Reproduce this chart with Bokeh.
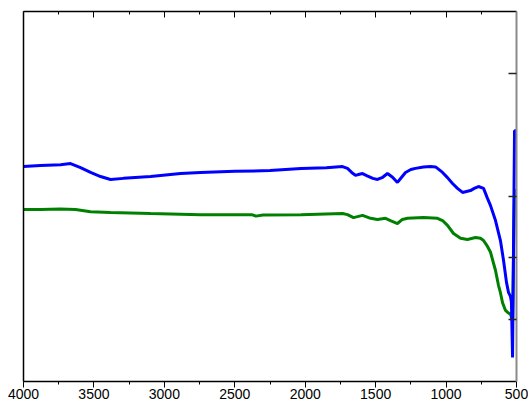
from bokeh.plotting import figure
from bokeh.models import Range1d, LinearAxis, FixedTicker, CustomJSTickFormatter
from bokeh.embed import file_html
from bokeh.resources import INLINE

# ---- data ----
x_major_ticks = [4000, 3500, 3000, 2500, 2000, 1500, 1000, 500]
x_minor_ticks = [3750, 3250, 2750, 2250, 1750, 1250, 750]
right_ticks = [16.8, 33.5, 50.0, 83.2]

blue_wn = [4000, 3880, 3737, 3666, 3595, 3524, 3453, 3382, 3290, 3098, 2885, 2743,
           2500, 2250, 2030, 1850, 1735, 1700, 1670, 1643, 1615, 1593, 1560, 1520,
           1487, 1450, 1416, 1380, 1345, 1320, 1288, 1250, 1217, 1160, 1110, 1075,
           1061, 1025, 990, 954, 919, 883, 827, 800, 770, 734, 706, 685, 649, 614,
           592, 571, 557, 543, 536, 528, 514, 500]
blue_t = [58.1, 58.4, 58.6, 58.9, 57.8, 56.5, 55.4, 54.6, 54.9, 55.4, 56.2, 56.5,
          56.8, 57.0, 57.6, 57.8, 58.1, 57.6, 56.5, 55.7, 56.0, 56.2, 55.6, 54.9,
          54.6, 55.2, 56.2, 55.2, 53.8, 55.0, 56.5, 57.3, 57.6, 58.0, 58.1, 58.0,
          57.6, 56.5, 55.1, 53.5, 52.2, 51.1, 51.6, 52.2, 52.7, 52.2, 49.5, 47.6,
          43.5, 38.1, 32.7, 26.8, 24.1, 23.0, 21.5, 6.5, 67.8, 67.8]

green_wn = [4000, 3880, 3737, 3631, 3524, 3382, 3098, 2743, 2500, 2380, 2350, 2300,
            2030, 1735, 1700, 1657, 1593, 1536, 1487, 1430, 1395, 1345, 1310, 1274,
            1160, 1061, 1025, 990, 947, 897, 848, 791, 756, 734, 706, 685, 649, 628,
            614, 599, 578, 557, 543, 528, 514, 500]
green_t = [46.5, 46.5, 46.6, 46.5, 45.9, 45.7, 45.4, 45.1, 45.1, 45.1, 44.7, 45.0,
           45.1, 45.4, 45.1, 44.3, 44.9, 44.1, 43.8, 44.1, 43.5, 42.7, 43.8, 44.1,
           44.3, 44.1, 43.5, 42.2, 40.0, 38.7, 38.4, 38.9, 38.7, 38.1, 36.5, 35.0,
           30.0, 26.0, 24.0, 21.3, 19.2, 18.5, 18.2, 16.5, 51.6, 51.6]

FONT = "Liberation Sans"

p = figure(width=528, height=404,
           x_range=Range1d(4000, 500), y_range=Range1d(0, 100),
           output_backend="svg", toolbar_location=None,
           x_axis_location=None, y_axis_location=None,
           min_border_left=23, min_border_right=12,
           min_border_top=11, min_border_bottom=23)
p.outline_line_color = None
p.xgrid.visible = False
p.ygrid.visible = False
p.background_fill_color = "white"
p.border_fill_color = "white"

p.line(green_wn, green_t, line_color="#008000", line_width=3)
p.line(blue_wn, blue_t, line_color="#0000FF", line_width=3)

empty = CustomJSTickFormatter(code="return '';")


def xticker():
    return FixedTicker(ticks=x_major_ticks, minor_ticks=x_minor_ticks)


# bottom axis with labels, ticks outward
bottom = LinearAxis(ticker=xticker())
bottom.axis_line_color = "black"
bottom.axis_line_width = 1.5
bottom.major_tick_in = 0
bottom.major_tick_out = 6
bottom.minor_tick_in = 0
bottom.minor_tick_out = 3
bottom.major_tick_line_color = "black"
bottom.minor_tick_line_color = "black"
bottom.major_label_text_font = FONT
bottom.major_label_text_font_size = "14px"
bottom.major_label_text_color = "black"
bottom.major_label_standoff = 1
p.add_layout(bottom, "below")

# top axis: ticks inward, no labels
top = LinearAxis(ticker=xticker(), formatter=empty)
top.axis_line_color = "black"
top.axis_line_width = 1.5
top.major_tick_in = 6
top.major_tick_out = 0
top.minor_tick_in = 3
top.minor_tick_out = 0
top.major_tick_line_color = "black"
top.minor_tick_line_color = "black"
top.major_label_text_font_size = "0px"
top.major_label_standoff = 0
p.add_layout(top, "above")

# left axis: plain line
left = LinearAxis(ticker=FixedTicker(ticks=[]), formatter=empty)
left.axis_line_color = "black"
left.axis_line_width = 1.5
left.major_tick_in = 0
left.major_tick_out = 0
left.minor_tick_in = 0
left.minor_tick_out = 0
left.major_label_text_font_size = "0px"
left.major_label_standoff = 0
p.add_layout(left, "left")

# right axis: grey line, inward ticks, no labels
right = LinearAxis(ticker=FixedTicker(ticks=right_ticks, minor_ticks=[]), formatter=empty)
right.axis_line_color = "#8a8a8a"
right.axis_line_width = 2
right.major_tick_in = 8
right.major_tick_out = 0
right.minor_tick_in = 0
right.minor_tick_out = 0
right.major_tick_line_color = "#222222"
right.major_tick_line_width = 1.5
right.major_label_text_font_size = "0px"
right.major_label_standoff = 0
p.add_layout(right, "right")

open("out.html", "w").write(file_html(p, INLINE))
